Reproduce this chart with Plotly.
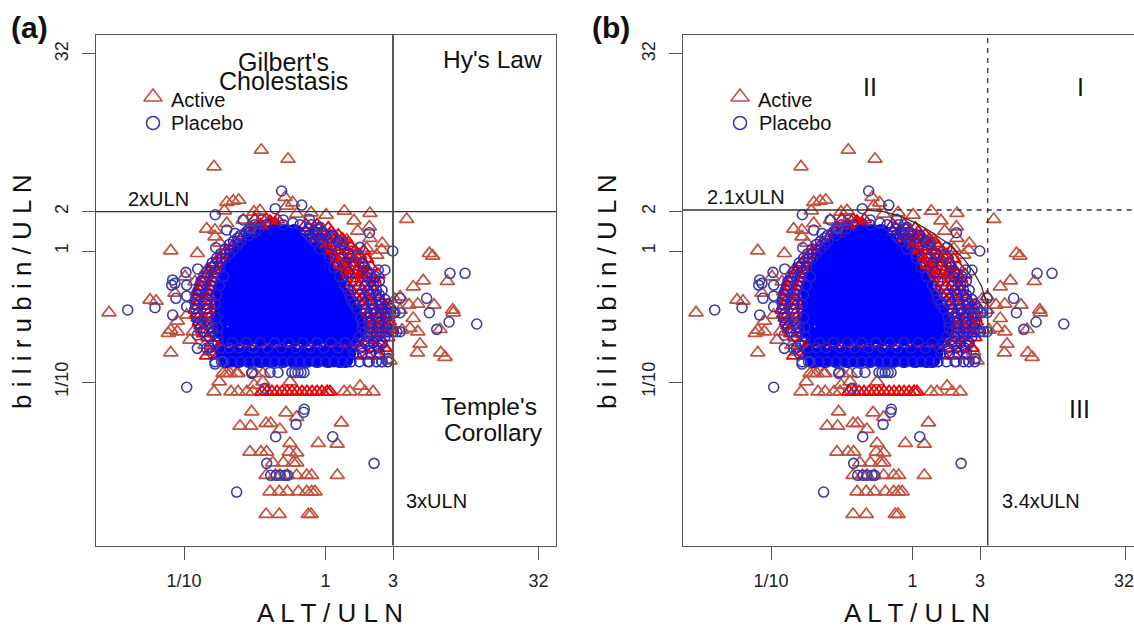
import plotly.graph_objects as go

W, H = 1134, 629

# All values below are log10(ratio to ULN): (ALT, bilirubin)
active_upper = [(-0.788,0.644),(-0.454,0.771),(-0.265,0.702),(-0.698,0.372),(-0.652,0.382),(-0.613,0.389),
    (-0.715,0.308),(-0.505,0.298),(-0.463,0.308),(-0.286,0.410),(-0.232,0.369),(-0.274,0.344),(-0.204,0.282),
    (-0.102,0.292),(0.004,0.275),(0.133,0.305),(0.314,0.288),(0.201,0.231),(0.574,0.242),(0.228,0.153),
    (0.310,0.185),(0.314,0.097),(0.401,0.059),(0.150,0.084),(0.088,0.084),(0.291,0.021),(0.397,0.008),
    (0.362,-0.031),(-0.840,0.168),(-0.781,0.160),(-0.698,0.211),(-0.781,0.109),(-0.581,0.237),(-1.094,0.002),
    (-0.906,-0.018),(-0.746,0.061)]
active_right = [(0.734,-0.018),(0.758,-0.038),(0.691,-0.227),(0.620,-0.273),(0.861,-0.231),(0.527,-0.349),
    (0.491,-0.369),(0.590,-0.412),(0.652,-0.405),(0.767,-0.412),(0.899,-0.450),(0.903,-0.471),(0.620,-0.514),
    (0.597,-0.590),(0.652,-0.616),(0.809,-0.598),(0.668,-0.710),(0.649,-0.776),(0.814,-0.776),(0.845,-0.811),
    (0.433,-0.769),(0.456,-0.837),(0.327,-0.705),(0.527,-0.450),(0.442,-0.412),(0.541,-0.603)]
active_left = [(-1.530,-0.471),(-1.240,-0.374),(-1.198,-0.382),(-1.094,-0.603),(-1.047,-0.616),(-1.111,-0.628),
    (-1.094,-0.776),(-1.047,-0.534),(-0.934,-0.616),(-0.981,-0.489),(-0.922,-0.234),(-0.910,-0.311),
    (-0.993,-0.196),(-1.064,-0.321),(-0.840,-0.145),(-0.816,-0.769),(-0.746,-0.740),(-0.698,-0.934),
    (-0.628,-0.934),(-0.852,-0.718),(-0.958,-0.679),(-0.887,-0.489)]
active_lower = [(-0.724,-0.934),(-0.675,-0.934),(-0.618,-0.934),(-0.498,-0.934),(-0.442,-0.934),
    (-0.788,-1.074),(-0.668,-1.074),(-0.618,-1.074),(-0.555,-1.074),(-0.512,-1.074),(-0.449,-1.074),
    (0.011,-1.074),(0.131,-1.074),(0.173,-1.074),(0.279,-1.074),(0.336,-1.074),
    (-0.751,-0.998),(-0.505,-1.023),(-0.442,-0.998),(-0.251,-0.998),(0.244,-1.031),
    (-0.522,-1.227),(-0.279,-1.234),(-0.204,-1.269),(-0.604,-1.336),(-0.529,-1.336),(-0.420,-1.315),
    (-0.387,-1.315),(-0.322,-1.361),(0.112,-1.311),(-0.251,-1.468),(-0.051,-1.468),(0.083,-1.473),
    (-0.534,-1.534),(-0.456,-1.534),(-0.416,-1.534),(-0.256,-1.534),(-0.204,-1.540),
    (-0.373,-1.616),(-0.298,-1.616),(-0.228,-1.616),(-0.204,-1.616),
    (-0.420,-1.712),(-0.355,-1.712),(-0.322,-1.712),(-0.270,-1.712),(-0.204,-1.712),(-0.133,-1.712),
    (-0.098,-1.712),(0.083,-1.712),
    (-0.392,-1.837),(-0.327,-1.837),(-0.270,-1.837),(-0.192,-1.837),(-0.133,-1.837),(-0.098,-1.837),(-0.074,-1.837),
    (-0.420,-2.010),(-0.327,-2.010),(-0.122,-2.010),(-0.102,-2.010)]

# Dense active records, row by row: (bilirubin, [ALT...])
active_dense = [
    (-1.074,[-0.449,-0.413,-0.378,-0.343,-0.307,-0.272,-0.237,-0.201,-0.166,-0.131,-0.095,-0.060,-0.025,0.011,0.032]),
    (0.24,[-0.50,-0.42,-0.34]),
    (0.20,[-0.46,-0.40,-0.36,-0.14,-0.06]),
    (0.145,[-0.54,-0.48,-0.42,-0.36,-0.14,-0.08,-0.02,0.04]),
    (0.09,[-0.60,-0.54,-0.12,-0.06,0.00,0.06,0.12]),
    (0.03,[-0.66,-0.60,-0.06,0.00,0.06,0.12,0.18]),
    (-0.03,[-0.72,-0.66,0.00,0.06,0.12,0.18,0.24]),
    (-0.09,[-0.78,-0.72,0.02,0.08,0.14,0.20,0.26]),
    (-0.15,[-0.82,-0.76,0.04,0.10,0.16,0.22,0.30]),
    (-0.21,[-0.86,-0.78,0.08,0.14,0.20,0.28,0.34]),
    (-0.27,[-0.88,-0.80,0.10,0.16,0.24,0.32]),
    (-0.33,[-0.90,-0.82,0.14,0.20,0.28,0.36]),
    (-0.39,[-0.90,-0.84,0.16,0.24,0.32,0.40]),
    (-0.45,[-0.92,-0.84,0.20,0.28,0.36,0.42]),
    (-0.51,[-0.90,-0.82,0.22,0.30,0.38,0.44]),
    (-0.57,[-0.88,-0.80,0.24,0.32,0.40,0.44]),
    (-0.63,[-0.86,-0.78,0.24,0.32,0.40]),
    (-0.70,[-0.80,-0.72,-0.62,-0.50,-0.38,-0.26,-0.12,0.00,0.10,0.20,0.30,0.38]),
    (0.175,[-0.50,-0.44,-0.38,-0.12,-0.04,0.02]),
    (0.12,[-0.58,-0.52,-0.46,-0.10,-0.04,0.03,0.09]),
    (0.06,[-0.64,-0.58,-0.08,-0.02,0.04,0.10,0.16]),
    (0.00,[-0.70,-0.64,-0.04,0.03,0.09,0.15,0.21,0.27]),
    (-0.06,[-0.75,-0.69,0.01,0.05,0.11,0.17,0.23,0.29]),
    (-0.12,[-0.80,-0.74,0.03,0.07,0.13,0.19,0.25,0.32]),
    (-0.18,[-0.84,-0.76,-0.70,0.06,0.11,0.17,0.25,0.31,0.37]),
    (-0.24,[-0.87,-0.79,-0.72,0.09,0.13,0.21,0.29,0.35]),
    (-0.30,[-0.89,-0.81,-0.74,0.12,0.18,0.26,0.34]),
    (-0.36,[-0.91,-0.83,-0.75,0.15,0.22,0.30,0.38]),
    (-0.42,[-0.91,-0.83,-0.76,0.18,0.26,0.34,0.42]),
    (-0.48,[-0.91,-0.83,-0.76,0.22,0.30,0.38,0.44]),
    (-0.54,[-0.89,-0.81,-0.76,0.24,0.31,0.39,0.45]),
    (-0.60,[-0.87,-0.79,0.24,0.32,0.40,0.46]),
    (-0.66,[-0.83,-0.76,0.22,0.30,0.38,0.44]),
    (-0.74,[-0.76,-0.68,-0.56,-0.44,-0.32,-0.18,-0.06,0.05,0.15,0.25,0.35,0.42]),
    (-0.80,[-0.84,-0.76,0.22,0.30,0.38]),
]

# Spots where active records pile up and show as solid red: (ALT, bilirubin)
active_patches = [(0.074,-0.069),(0.117,-0.107),(0.145,-0.160),(0.265,-0.145),(0.230,-0.183),
    (-0.392,0.244),(-0.350,0.221),(-0.435,0.183),(0.032,-0.008),(-0.004,0.046),(-0.039,0.099),(0.187,-0.069)]

# Very dense placebo core, row by row
placebo_core = [
    (0.145,[-0.44,-0.36,-0.28,-0.22]),
    (0.076,[-0.54,-0.46,-0.38,-0.30,-0.22,-0.16]),
    (0.008,[-0.60,-0.52,-0.44,-0.36,-0.28,-0.20,-0.12,-0.06]),
    (-0.061,[-0.64,-0.56,-0.48,-0.40,-0.32,-0.24,-0.16,-0.08,-0.02]),
    (-0.130,[-0.68,-0.60,-0.52,-0.44,-0.36,-0.28,-0.20,-0.12,-0.04,0.00]),
    (-0.198,[-0.70,-0.62,-0.54,-0.46,-0.38,-0.30,-0.22,-0.14,-0.06,0.02,0.06]),
    (-0.267,[-0.72,-0.64,-0.56,-0.48,-0.40,-0.32,-0.24,-0.16,-0.08,0.00,0.09]),
    (-0.336,[-0.73,-0.64,-0.56,-0.48,-0.40,-0.32,-0.24,-0.16,-0.08,0.00,0.08,0.12]),
    (-0.405,[-0.73,-0.64,-0.56,-0.48,-0.40,-0.32,-0.24,-0.16,-0.08,0.00,0.08,0.16]),
    (-0.473,[-0.73,-0.64,-0.56,-0.48,-0.40,-0.32,-0.24,-0.16,-0.08,0.00,0.08,0.16,0.20]),
    (-0.542,[-0.74,-0.64,-0.56,-0.48,-0.40,-0.32,-0.24,-0.16,-0.08,0.00,0.08,0.16,0.22]),
    (-0.611,[-0.74,-0.64,-0.56,-0.48,-0.40,-0.32,-0.24,-0.16,-0.08,0.00,0.08,0.16,0.22]),
    (-0.664,[-0.70,-0.62,-0.54,-0.46,-0.38,-0.30,-0.22,-0.14,-0.06,0.02,0.10,0.18]),
    (-0.786,[-0.72,-0.64,-0.56,-0.48,-0.40,-0.32,-0.24,-0.16,-0.08,0.00,0.08,0.16]),
    (-0.832,[-0.70,-0.62,-0.54,-0.46,-0.38,-0.30,-0.22,-0.14,-0.06,0.02,0.10,0.14]),
]

# Dense placebo fringe, row by row
placebo_fringe = [
    (0.20,[-0.50,-0.42,-0.30,-0.18,-0.10]),
    (0.145,[-0.56,-0.50,-0.14,-0.08,-0.02]),
    (0.10,[-0.62,-0.10,-0.04,0.04]),
    (0.05,[-0.68,-0.62,-0.02,0.12]),
    (-0.02,[-0.74,-0.68,0.02,0.16]),
    (-0.09,[-0.80,-0.74,0.14,0.26]),
    (-0.16,[-0.84,-0.78,0.16,0.30]),
    (-0.23,[-0.88,-0.80,0.18,0.32,0.38]),
    (-0.30,[-0.90,-0.82,0.16,0.30,0.36,0.40]),
    (-0.37,[-0.92,-0.84,0.18,0.26,0.32,0.38,0.42]),
    (-0.44,[-0.92,-0.84,0.22,0.28,0.34,0.40,0.46]),
    (-0.473,[0.28,0.32,0.36,0.40,0.44,0.48]),
    (-0.55,[-0.90,-0.82,0.26,0.32,0.38,0.44]),
    (-0.616,[-0.86,-0.80,0.28,0.32,0.36,0.40,0.44,0.48]),
    (-0.70,[-0.76,-0.66,-0.56,-0.46,-0.36,-0.26,-0.16,-0.06,0.04,0.14,0.22,0.28,0.34,0.40]),
    (-0.78,[-0.80,0.20,0.26,0.32,0.38]),
    (-0.845,[-0.78,-0.72,-0.66,-0.60,-0.54,-0.48,-0.42,-0.36,-0.30,-0.24,-0.18,-0.12,-0.06,0.00,0.06,0.12,0.18,0.24,0.30,0.36,0.40,0.44]),
    (0.17,[-0.54,-0.47,-0.12,-0.06]),
    (0.12,[-0.60,-0.54,-0.12,-0.06,0.00,0.05]),
    (0.075,[-0.65,-0.60,-0.08,0.09]),
    (0.015,[-0.71,-0.65,-0.04,0.10]),
    (-0.055,[-0.77,-0.71,0.03,0.17]),
    (-0.125,[-0.81,-0.75,0.06,0.27]),
    (-0.195,[-0.86,-0.79,-0.72,0.10,0.29,0.35]),
    (-0.265,[-0.89,-0.81,-0.75,0.14,0.28,0.34]),
    (-0.335,[-0.91,-0.83,-0.77,0.17,0.24,0.31,0.38]),
    (-0.405,[-0.92,-0.84,-0.78,0.20,0.27,0.33,0.39,0.44]),
    (-0.51,[-0.91,-0.83,-0.77,0.25,0.30,0.36,0.42]),
    (-0.585,[-0.88,-0.80,-0.76,0.26,0.31,0.37,0.43]),
    (-0.655,[-0.82,-0.76,0.24,0.30,0.36,0.42]),
    (-0.74,[-0.82,-0.74,-0.68,-0.61,-0.51,-0.41,-0.31,-0.21,-0.11,-0.01,0.09,0.19,0.25,0.31,0.37]),
]

placebo_points = [(-0.779,0.277),(-0.310,0.458),(-0.168,0.351),(-0.355,0.323),(-0.114,0.242),(-0.298,0.237),
    (0.310,0.140),(0.475,0.000),(0.244,0.028),(0.232,-0.031),(-0.451,0.237),(-0.527,0.173),(-0.230,0.214),
    (-0.039,0.181),(0.114,0.071),(-0.698,0.160),(-0.640,0.135),(-0.776,0.025),(-0.581,0.237),(-0.534,0.176),
    (0.880,-0.170),(0.986,-0.170),(0.715,-0.361),(0.734,-0.471),(0.873,-0.542),(1.069,-0.557),(0.786,-0.598),
    (0.527,-0.616),(0.503,-0.616),(0.527,-0.361),(0.527,-0.471),(0.491,-0.471),(0.310,-0.845),(0.397,-0.845),
    (0.444,-0.819),(0.420,-0.145),(0.373,-0.145),(-1.398,-0.450),(-1.205,-0.433),(-0.986,-0.163),(-0.903,-0.137),
    (-1.080,-0.221),(-1.064,-0.247),(-1.087,-0.260),(-0.981,-0.260),(-0.981,-0.344),(-1.057,-0.361),(-1.080,-0.489),
    (-0.910,-0.489),(-0.981,-0.425),(-0.906,-0.641),(-0.906,-0.743),(-0.840,-0.743),(-0.781,-0.863),(-0.734,-0.845),
    (-0.522,-0.934),(-0.840,-0.550),(-0.981,-1.040),(-0.519,-0.927),(-0.392,-0.927),(-0.336,-0.927),(-0.237,-0.927),
    (-0.216,-0.927),(-0.194,-0.927),(-0.173,-0.927),(-0.152,-0.927),(-0.428,-1.048),(-0.150,-1.208),(-0.154,-1.231),
    (-0.208,-1.323),(-0.352,-1.418),(0.051,-1.418),(-0.416,-1.621),(0.343,-1.621),(-0.387,-1.712),(-0.350,-1.712),
    (-0.322,-1.712),(-0.286,-1.712),(-0.267,-1.712),(-0.628,-1.840)]

legend_alt = [-1.219]
legend_active_bili = [1.176]
legend_placebo_bili = [0.977]

# Panel (b) curve
curve_alt = [-0.700,-0.324,-0.206,-0.088,0.030,0.147,0.265,0.359,0.430,0.489,0.512,0.524]
curve_bili = [0.313,0.313,0.300,0.267,0.211,0.135,0.046,-0.056,-0.158,-0.273,-0.359,-0.397]

x_ticks = [0.1, 1, 3, 32]
x_labels = ["1/10", "1", "3", "32"]
x_labels_b = ["1/10", "1", "3", ""]
y_ticks = [0.1, 1, 2, 32]
y_labels = ["1/10", "1", "2", "32"]

FONT = "Liberation Sans"
TRI = "#c4503c"
CIR = "#3c3ca8"
LINE = "#333333"


def unrow(rows):
    xs, ys = [], []
    for y, row in rows:
        xs += [10 ** v for v in row]
        ys += [10 ** y] * len(row)
    return xs, ys


def unpair(pairs):
    return [10 ** p[0] for p in pairs], [10 ** p[1] for p in pairs]


def px(x):
    return x / W


def py(y):
    return 1 - y / H


fig = go.Figure()


def points(xy, symbol, color, size, lw, xa, ya):
    fig.add_trace(go.Scatter(x=xy[0], y=xy[1], mode="markers", xaxis=xa, yaxis=ya, showlegend=False,
                             cliponaxis=True,
                             marker=dict(symbol=symbol, size=size, color=color, line=dict(color=color, width=lw))))


def line(xs, ys, xa, ya, dash="solid", width=1.4, color=LINE):
    fig.add_trace(go.Scatter(x=xs, y=ys, mode="lines", xaxis=xa, yaxis=ya, showlegend=False,
                             line=dict(color=color, width=width, dash=dash)))


X_LOW, X_HIGH = 0.02, 60
Y_LOW, Y_HIGH = 0.005, 50

for xa, ya in (("x", "y"), ("x2", "y2")):
    points(unpair(active_upper + active_right + active_left + active_lower), "triangle-up-open", TRI, 12.5, 1.7, xa, ya)
    points(unrow(active_dense), "triangle-up-open", "#f00000", 12.5, 1.8, xa, ya)
    points(unrow(placebo_core), "circle", "#0000ff", 16, 0, xa, ya)
    points(unpair(active_patches), "triangle-up", "#f00000", 11, 0, xa, ya)
    points(unrow(placebo_fringe), "circle-open", "#2a1fc8", 10, 1.5, xa, ya)
    points(unpair(placebo_points), "circle-open", CIR, 10, 1.6, xa, ya)
    points(([10 ** legend_alt[0]], [10 ** legend_active_bili[0]]), "triangle-up-open", TRI, 16, 1.6, xa, ya)
    points(([10 ** legend_alt[0]], [10 ** legend_placebo_bili[0]]), "circle-open", CIR, 13, 1.6, xa, ya)

# Panel (a) limits
line([X_LOW, X_HIGH], [2, 2], "x", "y")
line([3, 3], [Y_LOW, Y_HIGH], "x", "y", width=2, color="#555555")

# Panel (b) limits
curve_x = [10 ** v for v in curve_alt]
curve_y = [10 ** v for v in curve_bili]
line([X_LOW] + curve_x[1:], [curve_y[0]] + curve_y[1:], "x2", "y2", width=1.3)
line([3.4, 3.4], [curve_y[-1], Y_LOW], "x2", "y2", width=1.5, color="#444444")
line([3.4, 3.4], [curve_y[-1], Y_HIGH], "x2", "y2", dash="5px,5px", width=1.3)
line([curve_x[1], X_HIGH], [curve_y[0], curve_y[0]], "x2", "y2", dash="5px,5px", width=1.3)

axis_common = dict(type="log", showgrid=False, zeroline=False, showline=True, linecolor="#555555", linewidth=1.4,
                   ticks="outside", ticklen=13, tickwidth=1.4, tickcolor="#555555", tickmode="array",
                   tickfont=dict(family=FONT, size=18, color="#222222"))
y_domain = [py(545.5), py(35)]

fig.update_layout(
    width=W, height=H, margin=dict(l=0, r=0, t=0, b=0), paper_bgcolor="white", plot_bgcolor="white",
    showlegend=False, font=dict(family=FONT),
    xaxis=dict(axis_common, domain=[px(96), px(556)], range=[-1.622, 1.629], tickvals=x_ticks, ticktext=x_labels,
               anchor="y", mirror=True, ticklabelstandoff=6),
    yaxis=dict(axis_common, domain=y_domain, range=[-2.248, 1.649], tickvals=y_ticks, ticktext=y_labels,
               anchor="x", mirror=True, tickangle=-90, ticklabelstandoff=7),
    xaxis2=dict(axis_common, domain=[px(683), 1.0], range=[-1.622, 1.565], tickvals=x_ticks, ticktext=x_labels_b,
                anchor="y2", mirror=True, ticklabelstandoff=6),
    yaxis2=dict(axis_common, domain=y_domain, range=[-2.248, 1.649], tickvals=y_ticks, ticktext=y_labels,
                anchor="x2", tickangle=-90, ticklabelstandoff=7),
)


def text(s, x, y, size, angle=0, bold=False, color="#111111"):
    fig.add_annotation(text=f"<b>{s}</b>" if bold else s, x=px(x), y=py(y), xref="paper", yref="paper",
                       xanchor="center", yanchor="middle", showarrow=False, textangle=angle,
                       font=dict(family=FONT, size=size, color=color))


text("(a)", 29, 28, 30, bold=True)
text("(b)", 611, 28, 30, bold=True)
text("A L T / U L N", 330, 613, 26)
text("A L T / U L N", 917, 613, 26)
text("b i l i r u b i n / U L N", 22, 292, 26, angle=-90)
text("b i l i r u b i n / U L N", 607, 292, 26, angle=-90)
text("32", 1124, 581, 18, color="#222222")

text("Gilbert's", 283, 62, 25)
text("Cholestasis", 283, 81, 25)
text("Hy's Law", 492, 60, 24.5)
text("Temple's", 489, 406, 24.5)
text("Corollary", 493, 432, 24.5)
text("2xULN", 158, 199, 20)
text("3xULN", 436, 501, 20)
text("Active", 198, 100, 20)
text("Placebo", 207, 123, 20)

text("II", 870, 87, 25)
text("I", 1080, 87, 25)
text("III", 1079, 409, 25)
text("2.1xULN", 746, 197, 20)
text("3.4xULN", 1041, 501, 20)
text("Active", 785, 100, 20)
text("Placebo", 795, 123, 20)

fig.write_html("out.html", config={"displayModeBar": False},
               post_script="document.body.style.margin='0';document.body.style.overflow='hidden';")
